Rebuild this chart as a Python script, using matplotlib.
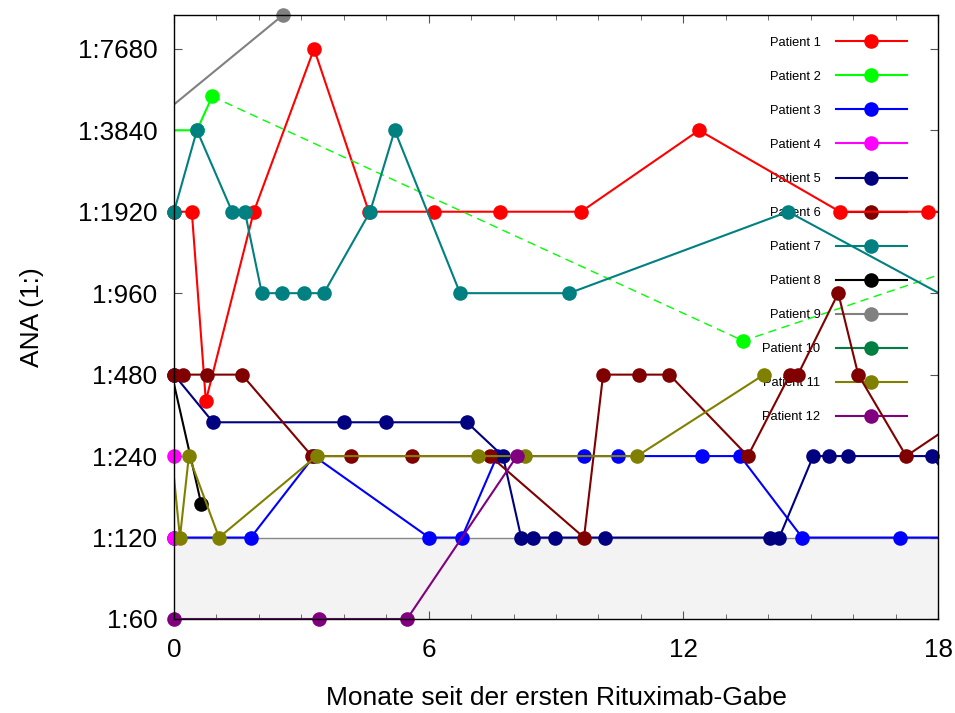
import numpy as np
import matplotlib
matplotlib.use("Agg")
import matplotlib.pyplot as plt
from matplotlib.lines import Line2D

plt.rcParams['font.family'] = ['Liberation Sans', 'DejaVu Sans']

# ---------------- data (months since first rituximab dose, ANA titer 1:x) ----
p1_x = [0, 0.42, 0.75, 1.88, 3.30, 4.59, 6.13, 7.68, 9.59, 12.37, 15.69, 17.77, 18.3]
p1_y = [1920, 1920, 384, 1920, 7680, 1920, 1920, 1920, 1920, 3840, 1920, 1920, 1920]

p2_x = [-0.5, 0.54, 0.9]
p2_y = [3840, 3840, 5120]
p2_dash_x = [0.9, 13.41, 19.1]
p2_dash_y = [5120, 640, 1280]

p3_x = [0, 1.81, 3.3, 6.01, 6.78, 7.61, 9.66, 10.46, 12.44, 13.34, 14.8, 17.1, 18.5]
p3_y = [120, 120, 240, 120, 120, 240, 240, 240, 240, 240, 120, 120, 120]

p4_x = [0, 0]
p4_y = [240, 120]

p5_x = [0, 0.92, 4.01, 5.0, 6.9, 7.75, 8.18, 8.46, 8.98, 10.16, 14.04, 14.26,
        15.06, 15.43, 15.88, 17.86, 19.3]
p5_y = [480, 320, 320, 320, 320, 240, 120, 120, 120, 120, 120, 120,
        240, 240, 240, 240, 120]

p6_x = [0, 0.21, 0.78, 1.6, 3.25, 4.17, 5.61, 7.45, 9.66, 10.11, 10.96, 11.67,
        13.52, 14.51, 14.7, 15.65, 16.12, 17.25, 20.1]
p6_y = [480, 480, 480, 480, 240, 240, 240, 240, 120, 480, 480, 480,
        240, 480, 480, 960, 480, 240, 480]

p7_x = [0, 0.54, 1.37, 1.67, 2.07, 2.54, 3.06, 3.53, 4.62, 5.2, 6.74, 9.31, 14.47, 19.5]
p7_y = [1920, 3840, 1920, 1920, 960, 960, 960, 960, 1920, 3840, 960, 960, 1920, 720]

p8_x = [-0.05, 0.64]
p8_y = [480, 160]

p9_x = [-2.11, 2.57]
p9_y = [2560, 10240]

p10_x = []
p10_y = []

p11_x = [-0.05, 0.14, 0.35, 1.06, 3.36, 7.16, 8.28, 10.91, 13.9]
p11_y = [240, 120, 240, 120, 240, 240, 240, 240, 480]

p12_x = [0, 3.42, 5.49, 8.08]
p12_y = [60, 60, 60, 240]

labels = ['Patient %d' % i for i in range(1, 13)]
colors = ['#ff0000', '#00ff00', '#0000ff', '#ff00ff', '#000080', '#800000',
          '#008080', '#000000', '#808080', '#008040', '#808000', '#800080']
series = [(p1_x, p1_y), (p2_x, p2_y), (p3_x, p3_y), (p4_x, p4_y), (p5_x, p5_y),
          (p6_x, p6_y), (p7_x, p7_y), (p8_x, p8_y), (p9_x, p9_y), (p10_x, p10_y),
          (p11_x, p11_y), (p12_x, p12_y)]

y_ticks = [60, 120, 240, 480, 960, 1920, 3840, 7680]
y_ticklabels = ['1:%d' % v for v in y_ticks]
x_ticks = [0, 6, 12, 18]
x_min, x_max = 0, 18
y_min, y_max = 60, 10240
normal_limit = 120

# ---------------- figure -----------------------------------------------------
fig = plt.figure(figsize=(9.55, 7.13), dpi=100)
ax = fig.add_axes([174/955, 1-619/713, 764/955, 604/713])
ax.set_xlim(x_min, x_max)
ax.set_yscale('log', base=2)
ax.set_ylim(y_min, y_max)

ax.axhspan(y_min, normal_limit, facecolor='#f3f3f3', edgecolor='none', zorder=0)
ax.axhline(normal_limit, color='#888888', lw=1.0, zorder=0.5)

ms = 10.5
lw = 1.5
for i, ((xs, ys), c) in enumerate(zip(series, colors)):
    xs = np.asarray(xs, dtype=float)
    ys = np.asarray(ys, dtype=float)
    z = 2 + i
    ax.plot(xs, ys, '-', color=c, lw=lw, zorder=z)
    if i == 1:
        ax.plot(p2_dash_x, p2_dash_y, color=c, lw=1.0, dashes=(6, 4), zorder=z)
        dx = np.asarray(p2_x + p2_dash_x[1:], dtype=float)
        dy = np.asarray(p2_y + p2_dash_y[1:], dtype=float)
    else:
        dx, dy = xs, ys
    m = (dx >= x_min) & (dx <= x_max) & (dy >= y_min) & (dy <= y_max)
    ax.plot(dx[m], dy[m], 'o', color=c, ms=ms, mew=0, zorder=z + 0.5, clip_on=False)

ax.set_yticks(y_ticks)
ax.set_yticklabels(y_ticklabels)
ax.yaxis.set_minor_locator(matplotlib.ticker.NullLocator())
ax.set_xticks(x_ticks)
ax.set_xticks(np.arange(0, 19, 1), minor=True)

ax.tick_params(axis='both', which='both', direction='in', top=True, right=True,
               labelsize=18.7, color='#555555')
ax.tick_params(axis='x', which='major', length=6, pad=14)
ax.tick_params(axis='x', which='minor', length=3.5)
ax.tick_params(axis='y', which='major', length=6, pad=12)
for s in ax.spines.values():
    s.set_linewidth(1.0)
    s.set_zorder(30)

ax.set_xlabel('Monate seit der ersten Rituximab-Gabe', fontsize=19, labelpad=17)
ax.set_ylabel('ANA (1:)', fontsize=19, labelpad=24)

handles = [Line2D([], [], color=c, lw=lw, marker='o', ms=ms, mew=0) for c in colors]
leg = ax.legend(handles, labels, loc='upper right', bbox_to_anchor=(0.9594, 0.964),
                frameon=False, markerfirst=False, fontsize=9.3, handlelength=5.5,
                handletextpad=1.2, labelspacing=1.705, borderpad=0, borderaxespad=0,
                numpoints=1)
leg.set_zorder(1)

fig.savefig('out.png', dpi=100, facecolor='white')
